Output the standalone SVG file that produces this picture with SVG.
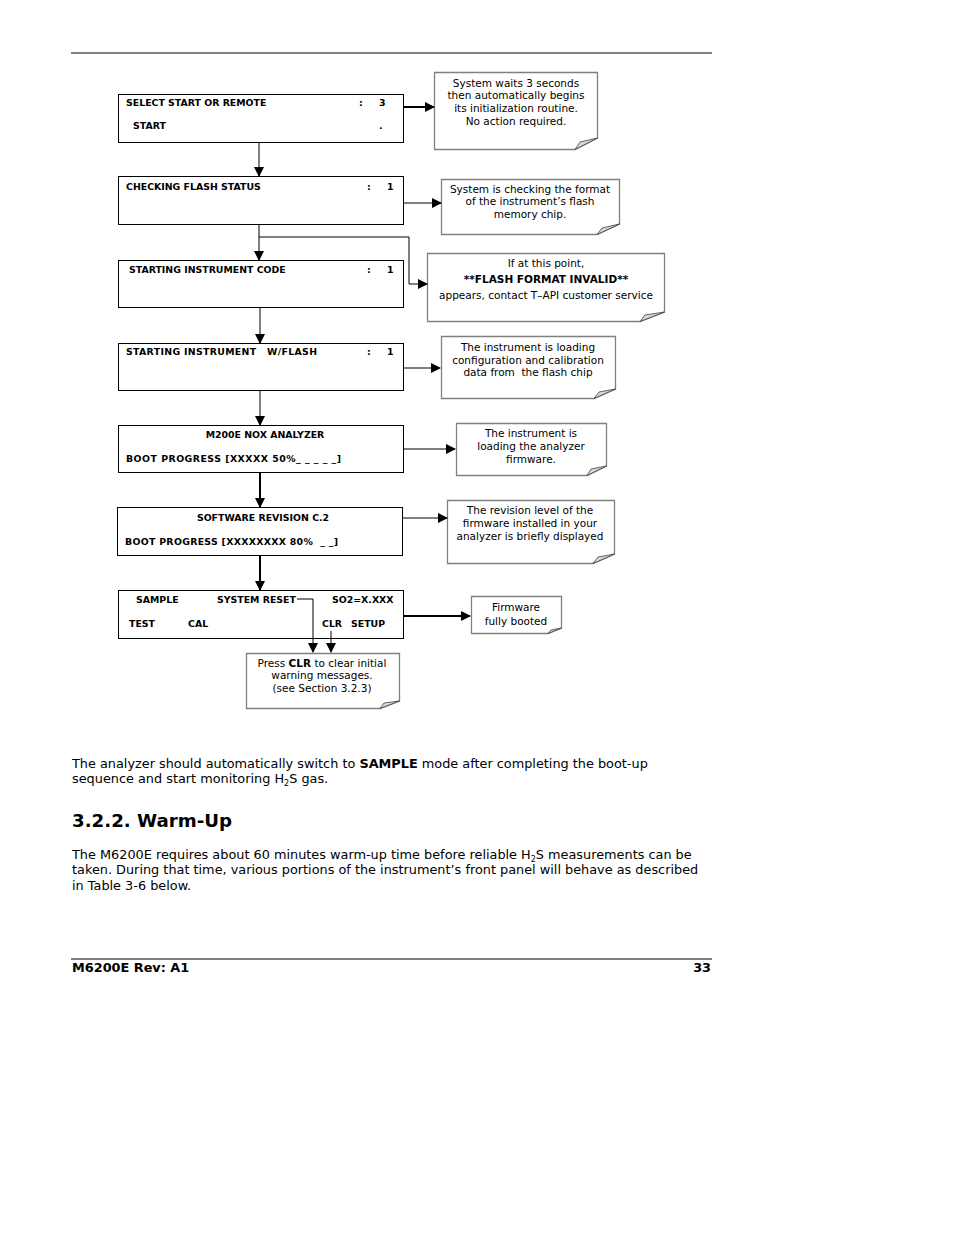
<svg xmlns="http://www.w3.org/2000/svg" width="954" height="1235" viewBox="0 0 954 1235">
<defs>
<style>
.bx{fill:#fff;stroke:#000;stroke-width:1}
.bt{font-family:"DejaVu Sans",Verdana,sans-serif;font-weight:bold;font-size:9.4px;fill:#000}
.nt{font-family:"DejaVu Sans",Verdana,sans-serif;font-size:10.5px;fill:#000;text-anchor:middle}
.note{fill:#fff;stroke:#808080;stroke-width:1.3}
.fold{fill:#d8d8d8;stroke:#404040;stroke-width:0.8}
.ln{fill:none;stroke:#000;stroke-width:1}
.lnb{fill:none;stroke:#000;stroke-width:2}
.body{font-family:"DejaVu Sans",Verdana,sans-serif;font-size:12.85px;fill:#000}
</style>
<marker id="ah" markerWidth="10" markerHeight="10" refX="9" refY="5" orient="auto" markerUnits="userSpaceOnUse"><path d="M0,0 L10,5 L0,10 Z" fill="#000"/></marker>
</defs>
<rect width="954" height="1235" fill="#fff"/>
<line x1="71" y1="53" x2="712" y2="53" stroke="#000" stroke-width="1"/>

<g id="box1"><rect class="bx" x="118.5" y="94.5" width="285" height="48"/>
<text class="bt" x="126" y="106">SELECT START OR REMOTE</text><text class="bt" x="359" y="106">:</text><text class="bt" x="379" y="106">3</text>
<text class="bt" x="133" y="129">START</text><text class="bt" x="379" y="129">.</text></g>

<g id="note1"><path class="note" d="M434.5,72.5 H597.5 V138 L575,149.5 H434.5 Z"/><path class="fold" d="M575,149.5 L597.5,138 L580,142 Z"/>
<text class="nt" x="516" y="87">System waits 3 seconds</text><text class="nt" x="516" y="99">then automatically begins</text><text class="nt" x="516" y="112">its initialization routine.</text><text class="nt" x="516" y="125">No action required.</text></g>

<g id="box2"><rect class="bx" x="118.5" y="176.5" width="285" height="48"/>
<text class="bt" x="126" y="190">CHECKING FLASH STATUS</text><text class="bt" x="367" y="190">:</text><text class="bt" x="387" y="190">1</text></g>

<g id="note2"><path class="note" d="M441.5,179.5 H619.5 V224 L597,234.5 H441.5 Z"/><path class="fold" d="M597,234.5 L619.5,224 L602,228 Z"/>
<text class="nt" x="530" y="193">System is checking the format</text><text class="nt" x="530" y="205">of the instrument’s flash</text><text class="nt" x="530" y="218">memory chip.</text></g>

<g id="box3"><rect class="bx" x="118.5" y="260.5" width="285" height="47"/>
<text class="bt" x="129" y="273">STARTING INSTRUMENT CODE</text><text class="bt" x="367" y="273">:</text><text class="bt" x="387" y="273">1</text></g>

<g id="note3"><path class="note" d="M427.5,253.5 H664.5 V312 L640,321.5 H427.5 Z"/><path class="fold" d="M640,321.5 L664.5,312 L645,315 Z"/>
<text class="nt" x="546" y="267">If at this point,</text><text class="nt" x="546" y="283" font-weight="bold">**FLASH FORMAT INVALID**</text><text class="nt" x="546" y="299">appears, contact T–API customer service</text></g>

<g id="box4"><rect class="bx" x="118.5" y="343.5" width="285" height="47"/>
<text class="bt" x="126" y="355" xml:space="preserve" textLength="191" lengthAdjust="spacing">STARTING INSTRUMENT   W/FLASH</text><text class="bt" x="367" y="355">:</text><text class="bt" x="387" y="355">1</text></g>

<g id="note4"><path class="note" d="M441.5,336.5 H615.5 V389 L594,398.5 H441.5 Z"/><path class="fold" d="M594,398.5 L615.5,389 L599,392 Z"/>
<text class="nt" x="528" y="351">The instrument is loading</text><text class="nt" x="528" y="364">configuration and calibration</text><text class="nt" x="528" y="376" xml:space="preserve">data from  the flash chip</text></g>

<g id="box5"><rect class="bx" x="118.5" y="425.5" width="285" height="47"/>
<text class="bt" x="265" y="438" text-anchor="middle">M200E NOX ANALYZER</text>
<text class="bt" x="126" y="462" textLength="215" lengthAdjust="spacing">BOOT PROGRESS [XXXXX 50%_ _ _ _ _]</text></g>

<g id="note5"><path class="note" d="M456.5,423.5 H606.5 V466 L587,475.5 H456.5 Z"/><path class="fold" d="M587,475.5 L606.5,466 L591,469 Z"/>
<text class="nt" x="531" y="437">The instrument is</text><text class="nt" x="531" y="450">loading the analyzer</text><text class="nt" x="531" y="463">firmware.</text></g>

<g id="box6"><rect class="bx" x="117.5" y="507.5" width="285" height="48"/>
<text class="bt" x="263" y="521" text-anchor="middle">SOFTWARE REVISION C.2</text>
<text class="bt" x="125" y="545" xml:space="preserve" textLength="213" lengthAdjust="spacing">BOOT PROGRESS [XXXXXXXX 80%  _ _]</text></g>

<g id="note6"><path class="note" d="M447.5,500.5 H614.5 V554 L593,563.5 H447.5 Z"/><path class="fold" d="M593,563.5 L614.5,554 L598,557 Z"/>
<text class="nt" x="530" y="514">The revision level of the</text><text class="nt" x="530" y="527">firmware installed in your</text><text class="nt" x="530" y="540">analyzer is briefly displayed</text></g>

<g id="box7"><rect class="bx" x="118.5" y="590.5" width="285" height="48"/>
<text class="bt" x="136" y="603">SAMPLE</text><text class="bt" x="217" y="603">SYSTEM RESET</text><text class="bt" x="332" y="603">SO2=X.XXX</text>
<text class="bt" x="129" y="627">TEST</text><text class="bt" x="188" y="627">CAL</text><text class="bt" x="322" y="627">CLR</text><text class="bt" x="351" y="627">SETUP</text></g>

<g id="note7"><path class="note" d="M471.5,596.5 H561.5 V628 L548,633.5 H471.5 Z"/><path class="fold" d="M548,633.5 L561.5,628 L551,630 Z"/>
<text class="nt" x="516" y="611" font-size="11.5">Firmware</text><text class="nt" x="516" y="625" font-size="11.5">fully booted</text></g>

<g id="note8"><path class="note" d="M246.5,653.5 H399.5 V701 L380,708.5 H246.5 Z"/><path class="fold" d="M380,708.5 L399.5,701 L384,703 Z"/>
<text class="nt" x="322" y="667">Press <tspan font-weight="bold">CLR</tspan> to clear initial</text><text class="nt" x="322" y="679">warning messages.</text><text class="nt" x="322" y="692">(see Section 3.2.3)</text></g>

<g id="connectors">
<line class="lnb" x1="403" y1="107" x2="434" y2="107" marker-end="url(#ah)"/>
<line class="ln" x1="259" y1="142" x2="259" y2="176" marker-end="url(#ah)"/>
<line class="ln" x1="403" y1="203" x2="441" y2="203" marker-end="url(#ah)"/>
<line class="ln" x1="259" y1="224" x2="259" y2="260" marker-end="url(#ah)"/>
<polyline class="ln" points="259,237 409,237 409,284 427,284" marker-end="url(#ah)"/>
<line class="ln" x1="260" y1="307" x2="260" y2="343" marker-end="url(#ah)"/>
<line class="ln" x1="403" y1="368" x2="440" y2="368" marker-end="url(#ah)"/>
<line class="ln" x1="260" y1="390" x2="260" y2="425" marker-end="url(#ah)"/>
<line class="ln" x1="403" y1="449" x2="455" y2="449" marker-end="url(#ah)"/>
<line class="lnb" x1="260" y1="472" x2="260" y2="507" marker-end="url(#ah)"/>
<line class="ln" x1="402" y1="518" x2="447" y2="518" marker-end="url(#ah)"/>
<line class="lnb" x1="260" y1="555" x2="260" y2="590" marker-end="url(#ah)"/>
<line class="lnb" x1="403" y1="616" x2="470" y2="616" marker-end="url(#ah)"/>
<polyline class="ln" points="297,599 313,599 313,652" marker-end="url(#ah)"/>
<line class="ln" x1="331" y1="631" x2="331" y2="652" marker-end="url(#ah)"/>
</g>

<g id="text">
<text class="body" x="72" y="768">The analyzer should automatically switch to <tspan font-weight="bold">SAMPLE</tspan> mode after completing the boot-up</text>
<text class="body" x="72" y="783">sequence and start monitoring H<tspan font-size="8" dy="3">2</tspan><tspan dy="-3">S gas.</tspan></text>
<text x="72" y="827" font-family="DejaVu Sans, Verdana, sans-serif" font-weight="bold" font-size="18.2">3.2.2. Warm-Up</text>
<text class="body" x="72" y="859">The M6200E requires about 60 minutes warm-up time before reliable H<tspan font-size="8" dy="3">2</tspan><tspan dy="-3">S measurements can be</tspan></text>
<text class="body" x="72" y="874">taken. During that time, various portions of the instrument’s front panel will behave as described</text>
<text class="body" x="72" y="890">in Table 3-6 below.</text>
<line x1="71" y1="959" x2="712" y2="959" stroke="#000" stroke-width="1"/>
<text class="body" x="72" y="972" font-weight="bold">M6200E Rev: A1</text>
<text class="body" x="711" y="972" font-weight="bold" text-anchor="end">33</text>
</g>
</svg>
